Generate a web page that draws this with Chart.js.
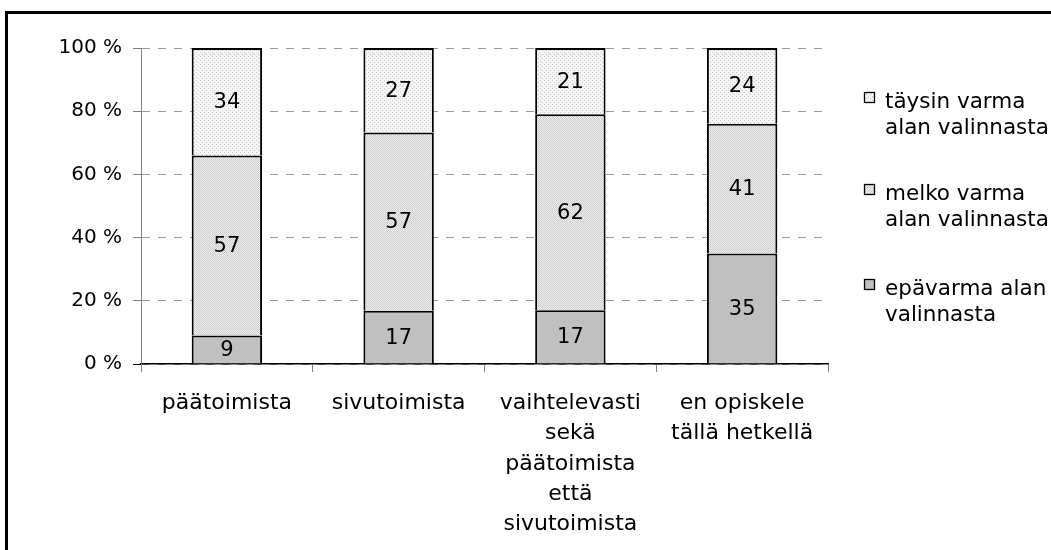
<!DOCTYPE html>
<html>
<head>
<meta charset="utf-8">
<script src="https://cdn.jsdelivr.net/npm/chart.js@4.4.1/dist/chart.umd.min.js"></script>
<style>
html, body { margin: 0; padding: 0; background: #fff; overflow: hidden; }
#wrap { position: relative; width: 1051px; height: 550px; }
</style>
</head>
<body>
<div id="wrap"><canvas id="chart" width="1051" height="550"></canvas></div>
<script>
// --- Data ---
const categories = [
    'päätoimista',
    'sivutoimista',
    ['vaihtelevasti', 'sekä', 'päätoimista', 'että', 'sivutoimista'],
    ['en opiskele', 'tällä hetkellä']
];
const epavarma = [9, 17, 17, 35];
const melkoVarma = [57, 57, 62, 41];
const taysinVarma = [34, 27, 21, 24];
const seriesNames = ['epävarma alan valinnasta', 'melko varma alan valinnasta', 'täysin varma alan valinnasta'];
const legendLines = [['täysin varma', 'alan valinnasta'], ['melko varma', 'alan valinnasta'], ['epävarma alan', 'valinnasta']];

const FONT = 'DejaVu Sans, Verdana, sans-serif';

// 100 % stacked: scale each column to its total
const totals = categories.map((_, i) => epavarma[i] + melkoVarma[i] + taysinVarma[i]);
const toPercent = arr => arr.map((v, i) => v / totals[i] * 100);

// --- Fill patterns ---
function makePattern(size, bg, fg, dots) {
    const c = document.createElement('canvas');
    c.width = size; c.height = size;
    const g = c.getContext('2d');
    g.fillStyle = bg; g.fillRect(0, 0, size, size);
    g.fillStyle = fg;
    dots.forEach(d => g.fillRect(d[0], d[1], 1, 1));
    return document.getElementById('chart').getContext('2d').createPattern(c, 'repeat');
}
const lightDots = makePattern(4, '#f5f5f5', '#c8c8c8', [[0, 0], [2, 2]]);
const mediumDots = makePattern(2, '#eeeeee', '#cdcdcd', [[0, 0], [1, 1]]);
const solidGray = '#c0c0c0';

const rawSeries = [epavarma, melkoVarma, taysinVarma];
const fills = [solidGray, mediumDots, lightDots];

// --- Plugins ---
const frame = {
    id: 'frame',
    beforeDraw(chart) {
        const ctx = chart.ctx;
        ctx.save();
        ctx.fillStyle = '#fff';
        ctx.fillRect(0, 0, chart.width, chart.height);
        ctx.strokeStyle = '#000';
        ctx.lineWidth = 3;
        ctx.strokeRect(6.5, 12.5, 2000, 2000);
        ctx.restore();
    }
};

const valueLabels = {
    id: 'valueLabels',
    afterDatasetsDraw(chart) {
        const ctx = chart.ctx;
        ctx.save();
        ctx.font = '21px ' + FONT;
        ctx.fillStyle = '#000';
        ctx.textAlign = 'center';
        ctx.textBaseline = 'middle';
        chart.data.datasets.forEach((ds, di) => {
            const meta = chart.getDatasetMeta(di);
            meta.data.forEach((bar, i) => {
                ctx.fillText(String(rawSeries[di][i]), bar.x, (bar.y + bar.base) / 2 + 1);
            });
        });
        ctx.restore();
    }
};

const sideLegend = {
    id: 'sideLegend',
    afterDraw(chart) {
        const ctx = chart.ctx;
        const order = [2, 1, 0];
        const baselines = [108, 200, 295];
        ctx.save();
        ctx.font = '21.5px ' + FONT;
        ctx.textBaseline = 'alphabetic';
        ctx.textAlign = 'left';
        order.forEach((di, k) => {
            const by = baselines[k];
            ctx.fillStyle = fills[di];
            ctx.fillRect(864, by - 16, 11, 11);
            ctx.strokeStyle = '#000';
            ctx.lineWidth = 1.3;
            ctx.strokeRect(864.5, by - 15.5, 10, 10);
            ctx.fillStyle = '#000';
            legendLines[k].forEach((line, j) => ctx.fillText(line, 885, by + j * 26));
        });
        ctx.restore();
    }
};

// --- Chart ---
const ctx = document.getElementById('chart').getContext('2d');
new Chart(ctx, {
    type: 'bar',
    data: {
        labels: categories,
        datasets: rawSeries.map((arr, di) => ({
            label: seriesNames[di],
            data: toPercent(arr),
            backgroundColor: fills[di],
            borderColor: '#000',
            borderWidth: 2,
            borderSkipped: 'start',
            categoryPercentage: 1,
            barPercentage: 0.41
        }))
    },
    options: {
        responsive: false,
        animation: false,
        layout: { padding: { left: 0, right: 223, top: 48, bottom: 0 } },
        plugins: { legend: { display: false }, tooltip: { enabled: false } },
        scales: {
            x: {
                stacked: true,
                grid: { display: true, drawOnChartArea: false, drawTicks: true, tickLength: 8, color: '#808080', offset: true },
                border: { color: '#000', width: 1.5 },
                ticks: { color: '#000', font: { family: FONT, size: 22, lineHeight: 1.38 }, padding: 16, maxRotation: 0, autoSkip: false },
                afterFit: s => { s.height = 186; }
            },
            y: {
                stacked: true,
                min: 0,
                max: 100,
                ticks: { stepSize: 20, color: '#000', font: { family: FONT, size: 20 }, padding: 11, callback: v => v + ' %' },
                grid: {
                    color: '#9a9a9a',
                    tickColor: c => (c.tick && c.tick.value === 0 ? '#000' : '#808080'),
                    tickLength: 8,
                    tickBorderDash: []
                },
                border: { color: '#808080', width: 1, dash: [8, 8] },
                afterFit: s => { s.width = 141; }
            }
        }
    },
    plugins: [frame, valueLabels, sideLegend]
});
</script>
</body>
</html>
